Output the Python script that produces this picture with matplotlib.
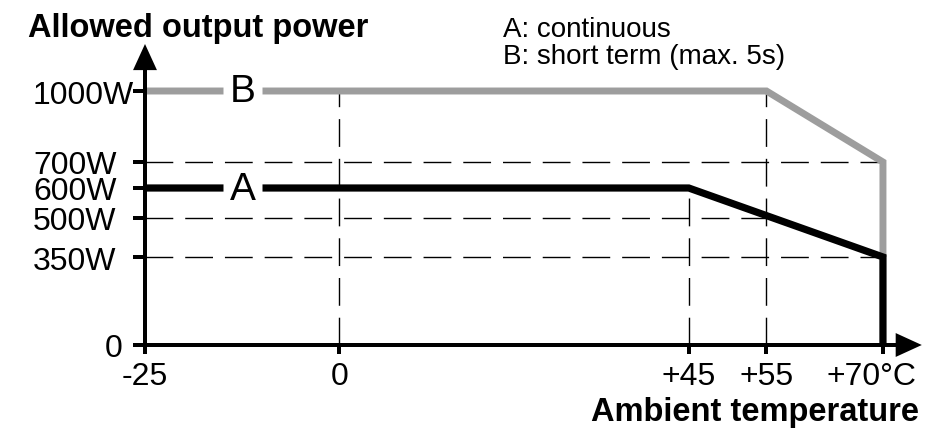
import matplotlib
matplotlib.use('Agg')
import matplotlib.pyplot as plt
import numpy as np
from matplotlib.transforms import ScaledTranslation

# ---- data ----
curve_a_temp = [-25, 45, 70, 70]
curve_a_power = [600, 600, 350, 0]
curve_b_temp = [-25, 55, 70, 70]
curve_b_power = [1000, 1000, 700, 350]
x_ticks = [-25, 0, 45, 55, 70]
x_tick_labels = ['-25', '0', '+45', '+55', '+70°C']
y_ticks = [0, 350, 500, 600, 700, 1000]
y_tick_labels = ['0', '350W', '500W', '600W', '700W', '1000W']
h_guide_power = [700, 500, 350]
h_guide_end = [70, 55, 70]
v_guide_temp = [0, 45, 55]
v_guide_top = [1000, 600, 1000]
series_names = ['A', 'B']
legend_lines = ['A: continuous', 'B: short term (max. 5s)']
title = 'Allowed output power'
xlabel = 'Ambient temperature'

# ---- layout ----
W, H = 946, 439
DPI = 100
PX = 72.0 / DPI  # points per pixel
REG = ['Liberation Sans', 'DejaVu Sans']
GRAY = '#9d9d9d'

# the drawing is not to scale on the power axis: piecewise axis scale
scale_vals = [0, 350, 500, 600, 700, 1000, 1185]
scale_pos = [0, 88, 127, 157, 183, 254, 301]


def fwd(v):
    return np.interp(v, scale_vals, scale_pos)


def inv(p):
    return np.interp(p, scale_pos, scale_vals)


fig = plt.figure(figsize=(W / DPI, H / DPI), dpi=DPI)
x_min, x_max = -25, 75
y_min, y_max = 0, 1185
ax = fig.add_axes([145 / W, 93 / H, 776.8 / W, 301 / H])
ax.set_yscale('function', functions=(fwd, inv))
ax.set_xlim(x_min, x_max)
ax.set_ylim(y_min, y_max)
for s in ax.spines.values():
    s.set_visible(False)
ax.patch.set_visible(False)

# axes lines with arrows
ax.plot([x_min, x_max - 2], [y_min, y_min], color='black', lw=4 * PX,
        solid_capstyle='projecting', clip_on=False, zorder=6)
ax.plot([x_min, x_min], [y_min, y_max - 60], color='black', lw=4 * PX,
        solid_capstyle='projecting', clip_on=False, zorder=6)
ax.annotate('', xy=(x_max, y_min), xytext=(x_max - 4, y_min),
            arrowprops=dict(arrowstyle='-|>,head_length=0.94,head_width=0.43',
                            mutation_scale=20, color='black', lw=0,
                            shrinkA=0, shrinkB=0), annotation_clip=False, zorder=6)
ax.annotate('', xy=(x_min, y_max), xytext=(x_min, y_max - 150),
            arrowprops=dict(arrowstyle='-|>,head_length=0.94,head_width=0.43',
                            mutation_scale=20, color='black', lw=0,
                            shrinkA=0, shrinkB=0), annotation_clip=False, zorder=6)

# guide lines
dash = (0, (20, 8.6))
for p, e in zip(h_guide_power, h_guide_end):
    ax.plot([x_min, e], [p, p], color='black', lw=1.0, linestyle=dash, zorder=2)
for t, top in zip(v_guide_temp, v_guide_top):
    ax.plot([t, t], [y_min, top], color='black', lw=1.0, linestyle=dash, zorder=2)

# curves
ax.plot(curve_b_temp, curve_b_power, color=GRAY, lw=5, solid_joinstyle='miter',
        solid_capstyle='butt', zorder=3)
ax.plot(curve_a_temp, curve_a_power, color='black', lw=5.2, solid_joinstyle='miter',
        solid_capstyle='butt', zorder=4)

# series labels interrupting the lines
label_x, gap = -12.45, 2.5
for name, pw in zip(series_names, [curve_a_power[0], curve_b_power[0]]):
    ax.plot([label_x - gap, label_x + gap], [pw, pw], color='white', lw=8,
            solid_capstyle='butt', zorder=5)
    ax.annotate(name, xy=(label_x, pw), xytext=(0, -10.5 * PX), textcoords='offset points',
                ha='center', va='baseline', fontsize=28, family=REG, zorder=7)

# ticks
ax.set_xticks(x_ticks, x_tick_labels)
ax.set_yticks(y_ticks, y_tick_labels)
ax.minorticks_off()
ax.tick_params(axis='x', direction='out', length=9 * PX, width=4 * PX, pad=7 * PX,
               labelsize=23)
ax.tick_params(axis='y', direction='out', length=12 * PX, width=4 * PX,
               pad=100 * PX, labelsize=23)
for lab in ax.get_xticklabels() + ax.get_yticklabels():
    lab.set_family(REG)
for lab in ax.get_yticklabels():
    lab.set_horizontalalignment('left')
    if lab.get_text() == '0':
        lab.set_transform(lab.get_transform() + ScaledTranslation(72 / DPI, 0, fig.dpi_scale_trans))
for lab in ax.get_xticklabels():
    if lab.get_text().endswith('C'):
        lab.set_transform(lab.get_transform() + ScaledTranslation(-11 / DPI, 0, fig.dpi_scale_trans))

# texts
fig.text(28 / W, 1 - 37 / H, title, ha='left', va='baseline', fontsize=23.5,
         fontweight='bold', family=REG)
fig.text(503 / W, 1 - 37 / H, legend_lines[0], ha='left', va='baseline', fontsize=20, family=REG)
fig.text(503 / W, 1 - 64 / H, legend_lines[1], ha='left', va='baseline', fontsize=20, family=REG)
fig.text(919 / W, 1 - 421 / H, xlabel, ha='right', va='baseline', fontsize=23.5,
         fontweight='bold', family=REG)

fig.savefig('out.png', dpi=DPI)
